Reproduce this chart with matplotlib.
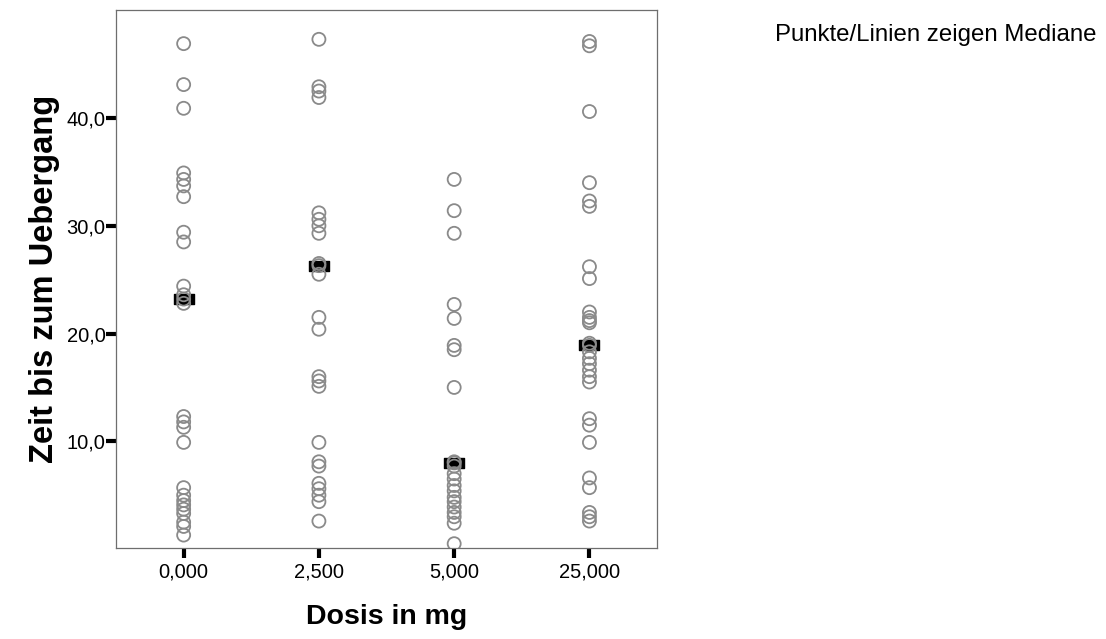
import matplotlib
matplotlib.use("Agg")
import matplotlib.pyplot as plt
from matplotlib.path import Path
import numpy as np

plt.rcParams['font.family'] = ['Liberation Sans', 'DejaVu Sans']

# Gruppen (Dosis) und Messwerte
dosis = ["0,000", "2,500", "5,000", "25,000"]

zeit_0 = [46.9, 43.1, 40.9, 34.9, 34.3, 33.7, 32.7, 29.4, 28.5, 24.4, 23.6, 23.2,
          22.8, 12.3, 11.8, 11.3, 9.9, 5.7, 5.0, 4.5, 4.1, 3.7, 3.3, 2.5, 2.1, 1.3]
zeit_2500 = [47.3, 42.9, 42.5, 41.9, 31.2, 30.6, 30.0, 29.3, 26.5, 26.3, 25.5, 21.5,
             20.4, 16.0, 15.6, 15.1, 9.9, 8.1, 7.7, 6.1, 5.6, 5.0, 4.4, 2.6]
zeit_5000 = [34.3, 31.4, 29.3, 22.7, 21.4, 18.9, 18.5, 15.0, 8.1, 8.0, 7.7, 7.0,
             6.5, 5.9, 5.4, 4.8, 4.4, 3.9, 3.4, 3.0, 2.4, 0.5]
zeit_25000 = [47.1, 46.7, 40.6, 34.0, 32.3, 31.8, 26.2, 25.1, 22.0, 21.5, 21.2, 21.0,
              19.1, 18.9, 18.3, 17.7, 17.2, 16.6, 16.0, 15.5, 12.1, 11.5, 9.9, 6.6,
              5.7, 3.4, 3.0, 2.6]

mediane = [23.2, 26.3, 8.0, 18.9]

gruppen = [zeit_0, zeit_2500, zeit_5000, zeit_25000]

fig = plt.figure(figsize=(11.06, 6.39), dpi=100)
ax = fig.add_axes([0.1049, 0.1424, 0.4892, 0.8416])

# rechteckiger Marker fuer die Mediane
balken = Path([(-1, -0.5), (1, -0.5), (1, 0.5), (-1, 0.5), (-1, -0.5)],
              [Path.MOVETO, Path.LINETO, Path.LINETO, Path.LINETO, Path.CLOSEPOLY])
ax.scatter(range(len(mediane)), mediane, marker=balken, s=210, color='black',
           zorder=2)

for i, werte in enumerate(gruppen):
    ax.scatter(np.full(len(werte), i), werte, s=88, facecolors='none',
               edgecolors='#8a8a8a', linewidths=1.3, zorder=3)

ax.set_xlim(-0.5, 3.5)
ax.set_ylim(0.1, 50)
ax.set_xticks(range(len(dosis)))
ax.set_xticklabels(dosis)
ax.set_yticks([10, 20, 30, 40])
ax.set_yticklabels(["10,0", "20,0", "30,0", "40,0"])

for s in ax.spines.values():
    s.set_color('#6e6e6e')
    s.set_linewidth(0.9)

ax.tick_params(axis='both', direction='out', length=7, width=3, color='black',
               labelsize=14.5)
ax.tick_params(axis='y', pad=0.5)
ax.tick_params(axis='x', pad=3.5)

ax.set_xlabel("Dosis in mg", fontsize=20.5, fontweight='bold', labelpad=16)
ax.set_ylabel("Zeit bis zum Uebergang", fontsize=23.5, fontweight='bold',
              labelpad=5)

fig.text(0.9915, 0.945, "Punkte/Linien zeigen Mediane", ha='right', va='center',
         fontsize=17.3)

fig.savefig("out.png", dpi=100)
